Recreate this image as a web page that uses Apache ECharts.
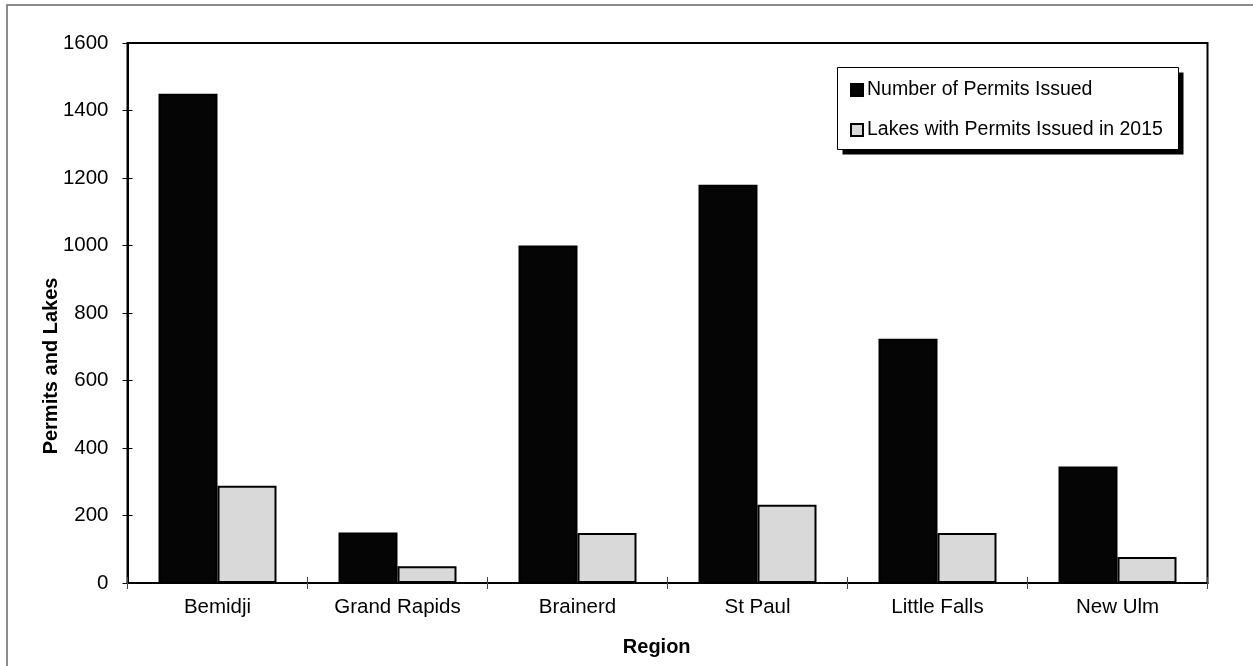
<!DOCTYPE html>
<html>
<head>
<meta charset="utf-8">
<script src="https://cdn.jsdelivr.net/npm/echarts@6/dist/echarts.min.js"></script>
<style>
html,body{margin:0;padding:0;background:#fff;}
#c{width:1253px;height:666px;}
</style>
</head>
<body>
<div id="c"></div>
<script>
const categories = ['Bemidji', 'Grand Rapids', 'Brainerd', 'St Paul', 'Little Falls', 'New Ulm'];
const permitsIssued = [1450, 150, 1000, 1180, 724, 345];
const lakesWithPermits = [288, 50, 148, 232, 148, 77];
const seriesNames = ['Number of Permits Issued', 'Lakes with Permits Issued in 2015'];
const yTicks = { min: 0, max: 1600, interval: 200 };
const xTitle = 'Region';
const yTitle = 'Permits and Lakes';

const FONT = 'Liberation Sans, Arial, sans-serif';
const chart = echarts.init(document.getElementById('c'), null, { renderer: 'canvas' });

const grid = { left: 127.5, right: 45.5, top: 43, bottom: 83 };
const legendBox = { x: 837.5, y: 67.5, w: 341, h: 82 };

chart.setOption({
  animation: false,
  backgroundColor: '#fff',
  grid: Object.assign({ show: true, borderColor: '#000', borderWidth: 2, backgroundColor: 'transparent', containLabel: false }, grid),
  legend: {
    orient: 'vertical',
    left: 837,
    top: 67,
    padding: [13, 16, 9, 13],
    itemWidth: 12,
    itemHeight: 12,
    itemGap: 20,
    icon: 'rect',
    borderWidth: 0,
    textStyle: { fontFamily: FONT, fontSize: 19.5, color: '#000', padding: [0, 0, 0, -1] },
    data: seriesNames
  },
  xAxis: [
    {
      type: 'category',
      data: categories,
      position: 'bottom',
      axisLine: { lineStyle: { color: '#000', width: 2 } },
      axisTick: { show: true, inside: false, length: 6, lineStyle: { color: '#444', width: 1 } },
      axisLabel: { fontFamily: FONT, fontSize: 20.5, color: '#000', margin: 14 },
      splitLine: { show: false }
    },
    {
      type: 'category',
      data: categories,
      position: 'bottom',
      axisLine: { show: false },
      axisTick: { show: true, inside: true, length: 6, lineStyle: { color: '#444', width: 1 } },
      axisLabel: { show: false },
      splitLine: { show: false }
    }
  ],
  yAxis: [
    {
      type: 'value',
      min: yTicks.min, max: yTicks.max, interval: yTicks.interval,
      axisLine: { show: true, lineStyle: { color: '#000', width: 2 } },
      axisTick: { show: true, inside: false, length: 5, lineStyle: { color: '#000', width: 1 } },
      axisLabel: { fontFamily: FONT, fontSize: 20.5, color: '#000', margin: 19, formatter: function (v) { return String(v); } },
      splitLine: { show: false }
    },
    {
      type: 'value',
      position: 'left',
      min: yTicks.min, max: yTicks.max, interval: yTicks.interval,
      axisLine: { show: false },
      axisTick: { show: true, inside: true, length: 5, lineStyle: { color: '#000', width: 1 } },
      axisLabel: { show: false },
      splitLine: { show: false }
    }
  ],
  series: [
    {
      name: seriesNames[0],
      type: 'bar',
      data: permitsIssued,
      barWidth: 59,
      barGap: '0%',
      itemStyle: { color: '#050505', borderColor: '#000', borderWidth: 2 }
    },
    {
      name: seriesNames[1],
      type: 'bar',
      data: lakesWithPermits,
      barWidth: 59,
      barGap: '0%',
      itemStyle: { color: '#d9d9d9', borderColor: '#000', borderWidth: 2 }
    }
  ],
  graphic: [
    {
      type: 'rect',
      shape: { x: 7, y: 5, width: 1300, height: 700 },
      style: { fill: 'none', stroke: '#666', lineWidth: 1.5 },
      silent: true, z: -10
    },
    {
      type: 'rect',
      shape: { x: legendBox.x + 5, y: legendBox.y + 5, width: legendBox.w, height: legendBox.h },
      style: { fill: '#000', stroke: null },
      silent: true, z: 1
    },
    {
      type: 'rect',
      shape: { x: legendBox.x, y: legendBox.y, width: legendBox.w, height: legendBox.h },
      style: { fill: '#fff', stroke: '#000', lineWidth: 1 },
      silent: true, z: 2
    },
    {
      type: 'text',
      x: 51.7, y: 366,
      rotation: Math.PI / 2,
      style: { text: yTitle, fill: '#000', font: 'bold 20px ' + FONT, align: 'center', verticalAlign: 'middle' }
    },
    {
      type: 'text',
      x: 656.7, y: 647,
      style: { text: xTitle, fill: '#000', font: 'bold 20px ' + FONT, align: 'center', verticalAlign: 'middle' }
    }
  ]
});
</script>
</body>
</html>
